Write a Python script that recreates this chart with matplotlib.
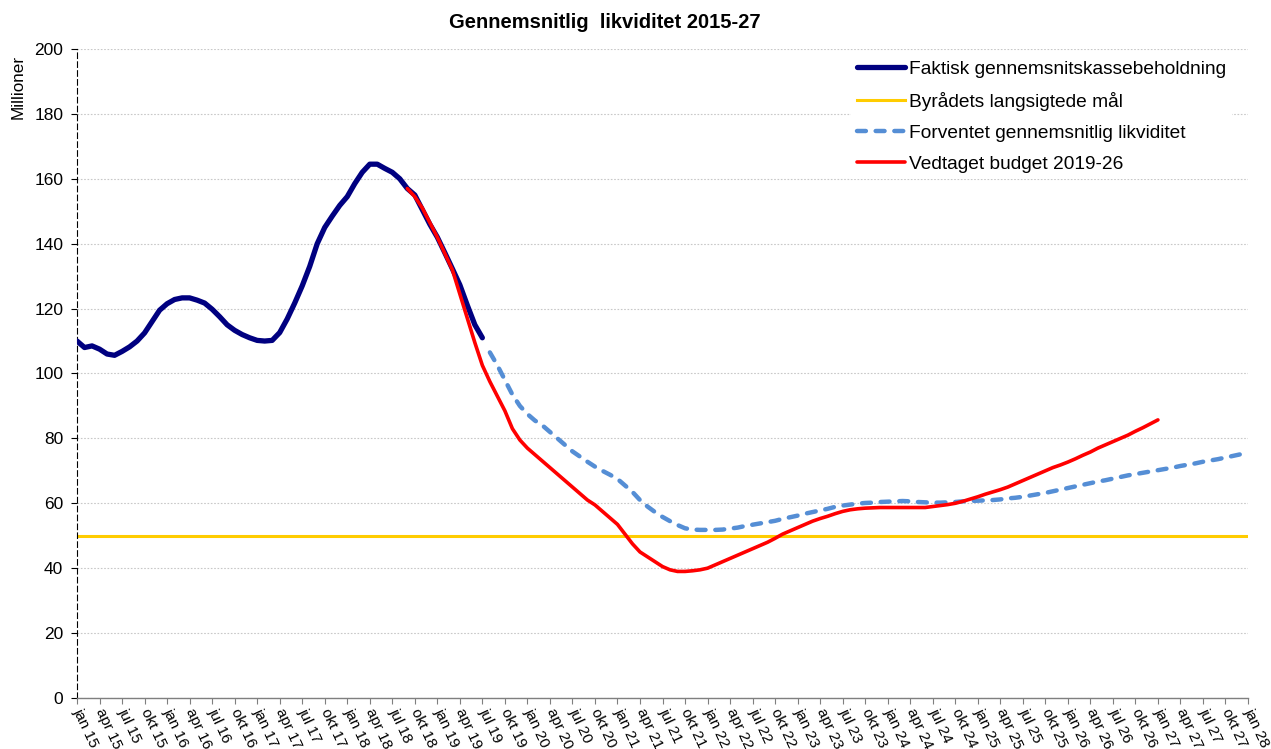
import numpy as np
import matplotlib.pyplot as plt
from matplotlib.lines import Line2D

plt.rcParams['font.family'] = ['Liberation Sans', 'DejaVu Sans']

# month index 0 = jan 15, one value per month (mio. kr.)
actual_start = 0
actual = [
    110, 108, 108.5, 107.5, 106, 105.6, 106.8, 108.2, 110, 112.5,
    116, 119.5, 121.5, 122.8, 123.3, 123.3, 122.6, 121.7, 119.8, 117.5,
    115, 113.3, 112, 111, 110.2, 110, 110.2, 112.6, 116.8, 121.7,
    127, 133, 140, 145, 148.5, 151.8, 154.5, 158.5, 162, 164.5,
    164.5, 163.2, 162, 160, 157, 155, 150.5, 146, 142, 137.2,
    132.3, 127.3, 121, 115, 111,
]

budget_start = 44  # sep 18
budget = [
    157, 154.5, 151, 146.5, 142, 137, 132, 124.5, 117, 109.5,
    102.5, 97.5, 93, 88.5, 83, 79.5, 77, 75, 73, 71,
    69, 67, 65, 63, 61, 59.5, 57.5, 55.5, 53.5, 50.5,
    47.5, 45, 43.5, 42, 40.5, 39.5, 39, 39, 39.2, 39.5,
    40, 41, 42, 43, 44, 45, 46, 47, 48, 49.2,
    50.5, 51.5, 52.5, 53.5, 54.5, 55.3, 56, 56.8, 57.5, 58,
    58.3, 58.5, 58.6, 58.7, 58.7, 58.7, 58.7, 58.7, 58.7, 58.7,
    59, 59.3, 59.6, 60, 60.6, 61.3, 62, 62.8, 63.5, 64.2,
    65, 66, 67, 68, 69, 70, 71, 71.8, 72.7, 73.7,
    74.8, 75.8, 77, 78, 79, 80, 81, 82.2, 83.3, 84.5,
    85.7,
]

forecast_start = 55  # aug 19
forecast = [
    106.5, 102.5, 98, 93.5, 90, 87.5, 85.5, 84, 82, 80,
    78, 76, 74.4, 72.8, 71.3, 70, 68.8, 67.5, 65.5, 63.5,
    61, 59, 57.3, 55.8, 54.5, 53.3, 52.3, 51.9, 51.8, 51.8,
    51.8, 51.9, 52.2, 52.5, 53, 53.4, 53.8, 54.2, 54.6, 55.2,
    55.7, 56.2, 56.8, 57.3, 57.8, 58.3, 58.9, 59.3, 59.6, 59.9,
    60.1, 60.2, 60.4, 60.5, 60.6, 60.7, 60.6, 60.4, 60.3, 60.2,
    60.2, 60.3, 60.4, 60.6, 60.7, 60.8, 60.9, 61, 61.2, 61.5,
    61.7, 62, 62.4, 62.8, 63.2, 63.7, 64.2, 64.7, 65.2, 65.7,
    66.2, 66.7, 67.1, 67.6, 68.1, 68.6, 69, 69.4, 69.8, 70.2,
    70.6, 71, 71.5, 71.9, 72.3, 72.8, 73.2, 73.6, 74.1, 74.6,
    75.1,
]

target_level = 50
axis_end = 156  # jan 28

quarter_names = ["jan", "apr", "jul", "okt"]
tick_pos = np.arange(0, axis_end + 1, 3)
tick_labels = [f"{quarter_names[(p // 3) % 4]} {15 + p // 12}" for p in tick_pos]

labels = ["Faktisk gennemsnitskassebeholdning",
          "Byrådets langsigtede mål",
          "Forventet gennemsnitlig likviditet",
          "Vedtaget budget 2019-26"]

NAVY = "#000080"
GOLD = "#FFCC00"
BLUE = "#558ED5"
RED = "#FF0000"

fig = plt.figure(figsize=(12.71, 7.49), dpi=100)
ax = fig.add_axes([0.0606, 0.0681, 0.9213, 0.8665])

x_act = np.arange(actual_start, actual_start + len(actual))
x_bud = np.arange(budget_start, budget_start + len(budget))
x_fc = np.arange(forecast_start, forecast_start + len(forecast))

ax.plot([0, axis_end], [target_level, target_level], color=GOLD, lw=2.2,
        solid_capstyle="butt", zorder=2)
ax.plot(x_fc, forecast, color=BLUE, lw=3.2, linestyle=(0, (2, 2.2)),
        dash_capstyle="round", zorder=3)
ax.plot(x_act, actual, color=NAVY, lw=3.8, solid_capstyle="round",
        solid_joinstyle="round", zorder=4)
ax.plot(x_bud, budget, color=RED, lw=2.6, solid_capstyle="round",
        solid_joinstyle="round", zorder=5)

ax.set_xlim(0, axis_end)
ax.set_ylim(0, 200)
ax.set_yticks(np.arange(0, 201, 20))
ax.set_xticks(tick_pos)
ax.set_xticklabels(tick_labels, rotation=-65, ha="left", va="center",
                   rotation_mode="anchor", fontsize=11)
ax.tick_params(axis="y", labelsize=12.5, length=4, width=0.8, pad=6, color="black")
ax.tick_params(axis="x", length=4, width=0.8, pad=4, color="#7F7F7F")

ax.grid(axis="y", color="#C8C8C8", lw=0.8, linestyle=(0, (1.5, 1.5)), zorder=0)
ax.set_axisbelow(True)

for s in ["top", "right"]:
    ax.spines[s].set_visible(False)
ax.spines["left"].set_linestyle((0, (5, 3)))
ax.spines["left"].set_linewidth(0.8)
ax.spines["bottom"].set_color("#7F7F7F")
ax.spines["bottom"].set_linewidth(1)

fig.text(0.014, 1 - 87 / 749, "Millioner", rotation=90, ha="center",
         va="center", fontsize=12.3)
fig.text(605 / 1271, 1 - 22 / 749, "Gennemsnitlig  likviditet 2015-27",
         ha="center", va="center", fontsize=14.5, fontweight="bold")

handles = [
    Line2D([], [], color=NAVY, lw=3.8, solid_capstyle="round"),
    Line2D([], [], color=GOLD, lw=2.2),
    Line2D([], [], color=BLUE, lw=3.2, linestyle=(0, (2, 2.2)), dash_capstyle="round"),
    Line2D([], [], color=RED, lw=2.6, solid_capstyle="round"),
]
leg = ax.legend(handles, labels, loc="upper left", bbox_to_anchor=(0.653, 1.006),
                fontsize=13.8, frameon=True, framealpha=1, edgecolor="white",
                fancybox=False, handlelength=2.5, handletextpad=0.2,
                labelspacing=0.72, borderpad=0.3)
leg.get_frame().set_linewidth(0)

fig.savefig("out.png", dpi=100)
